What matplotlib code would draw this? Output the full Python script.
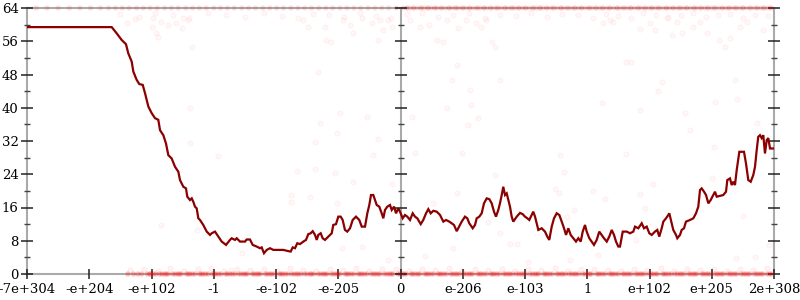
import matplotlib
matplotlib.use("Agg")
import matplotlib.pyplot as plt

# ---------------- data ----------------
tick_labels = ["-7e+304", "-e+204", "-e+102", "-1", "-e-102", "-e-205", "0",
               "e-206", "e-103", "1", "e+102", "e+205", "2e+308"]
y_major = [0, 8, 16, 24, 32, 40, 48, 56, 64]
y_minor = [4, 12, 20, 28, 36, 44, 52, 60]

# average error line (x in tick-index units, y in bits)
line_x = [0.0, 1.361, 1.441, 1.521, 1.590, 1.627, 1.682, 1.708, 1.762, 1.804, 1.859, 1.896, 1.949,
          2.003, 2.056, 2.109, 2.137, 2.190, 2.233, 2.270, 2.324, 2.378, 2.431, 2.458, 2.511,
          2.554, 2.575, 2.618, 2.646, 2.671, 2.699, 2.726, 2.752, 2.779, 2.832, 2.887, 2.940,
          2.967, 3.020, 3.073, 3.128, 3.197, 3.261, 3.288, 3.341, 3.369, 3.422, 3.502, 3.529,
          3.582, 3.626, 3.690, 3.743, 3.770, 3.807, 3.851, 3.904, 3.957, 4.037, 4.117, 4.198,
          4.236, 4.268, 4.305, 4.342, 4.386, 4.439, 4.482, 4.519, 4.557, 4.590, 4.627, 4.654,
          4.680, 4.718, 4.750, 4.787, 4.840, 4.895, 4.920, 4.964, 5.001, 5.039, 5.071, 5.108,
          5.145, 5.189, 5.232, 5.285, 5.338, 5.377, 5.430, 5.467, 5.499, 5.526, 5.563, 5.590,
          5.618, 5.659, 5.698, 5.724, 5.751, 5.788, 5.831, 5.859, 5.896, 5.928, 5.965, 5.992,
          6.035, 6.072, 6.109, 6.153, 6.196, 6.233, 6.270, 6.325, 6.366, 6.410, 6.447, 6.485,
          6.527, 6.582, 6.635, 6.688, 6.731, 6.784, 6.823, 6.859, 6.903, 6.945, 6.983, 7.036,
          7.073, 7.105, 7.160, 7.197, 7.224, 7.266, 7.304, 7.341, 7.385, 7.427, 7.465, 7.502,
          7.534, 7.571, 7.598, 7.626, 7.651, 7.679, 7.706, 7.732, 7.759, 7.786, 7.812, 7.867,
          7.920, 7.963, 8.000, 8.037, 8.069, 8.108, 8.133, 8.161, 8.188, 8.214, 8.268, 8.321,
          8.358, 8.390, 8.429, 8.466, 8.509, 8.551, 8.590, 8.627, 8.659, 8.696, 8.734, 8.776,
          8.819, 8.856, 8.895, 8.927, 8.964, 8.991, 9.033, 9.071, 9.108, 9.152, 9.193, 9.232,
          9.269, 9.313, 9.354, 9.393, 9.430, 9.462, 9.499, 9.526, 9.570, 9.634, 9.687, 9.740,
          9.767, 9.820, 9.875, 9.912, 9.955, 9.997, 10.035, 10.088, 10.125, 10.157, 10.196,
          10.222, 10.265, 10.302, 10.318, 10.357, 10.382, 10.426, 10.447, 10.490, 10.517,
          10.554, 10.586, 10.651, 10.704, 10.747, 10.784, 10.811, 10.838, 10.876, 10.908,
          10.945, 10.983, 11.025, 11.052, 11.080, 11.133, 11.185, 11.229, 11.250, 11.293,
          11.320, 11.346, 11.373, 11.401, 11.443, 11.481, 11.518, 11.550, 11.587, 11.626,
          11.667, 11.695, 11.722, 11.747, 11.775, 11.802, 11.828, 11.855, 11.883, 11.908,
          11.936, 12.0]
line_y = [59.4, 59.4, 57.9, 56.3, 55.3, 53.1, 51.1, 48.7, 46.7, 45.7, 45.5, 43.5, 40.3,
          38.7, 37.5, 37.1, 34.6, 33.4, 31.4, 28.6, 27.8, 25.8, 24.6, 22.6, 21.0,
          20.6, 18.6, 17.8, 18.2, 17.4, 16.2, 15.8, 13.4, 13.0, 11.8, 10.2, 9.4,
          9.8, 10.2, 9.0, 7.8, 7.0, 8.2, 8.6, 8.2, 8.6, 7.8, 7.8, 8.3,
          8.3, 7.0, 6.6, 6.2, 6.4, 5.0, 5.8, 6.2, 5.8, 5.8, 5.8, 5.5,
          5.4, 6.4, 6.2, 7.4, 7.2, 7.8, 8.2, 9.6, 9.8, 10.3, 9.4, 8.2,
          9.4, 9.8, 8.6, 8.2, 9.0, 9.8, 11.8, 12.0, 13.8, 13.8, 13.0, 10.6,
          10.2, 11.0, 13.0, 13.8, 13.0, 11.4, 11.4, 14.6, 16.6, 19.0, 19.0, 17.8,
          16.6, 16.2, 14.6, 13.4, 15.4, 16.2, 16.6, 15.4, 16.2, 14.6, 15.8, 15.0,
          13.4, 14.2, 13.8, 13.0, 14.6, 13.8, 13.4, 12.0, 13.0, 14.6, 15.6, 14.6,
          15.2, 15.0, 14.2, 12.6, 13.0, 12.6, 12.2, 11.8, 10.3, 11.5, 12.6, 13.8,
          13.4, 12.2, 11.0, 11.8, 13.4, 13.8, 14.6, 17.0, 18.2, 18.0, 17.0, 15.0,
          13.8, 15.4, 17.0, 19.0, 21.0, 19.0, 19.4, 17.8, 16.2, 13.8, 12.6, 13.8,
          14.7, 14.4, 13.8, 13.4, 13.0, 14.2, 15.0, 13.8, 12.2, 10.6, 11.0, 10.2,
          9.0, 8.2, 11.4, 13.4, 14.6, 14.2, 12.6, 11.0, 9.4, 11.0, 9.4, 8.6,
          7.8, 8.6, 7.8, 10.2, 11.8, 10.2, 8.6, 7.8, 7.0, 8.2, 10.2, 9.4,
          8.6, 7.8, 9.0, 10.6, 9.4, 7.8, 6.6, 6.6, 10.2, 10.2, 9.8, 10.2,
          11.4, 11.0, 12.2, 11.0, 11.4, 9.8, 9.4, 10.2, 10.6, 9.0, 11.0,
          12.6, 13.4, 14.2, 14.6, 12.2, 10.6, 9.4, 8.6, 9.4, 10.6,
          11.0, 12.6, 13.0, 13.4, 14.6, 16.2, 20.2, 20.6, 19.8, 19.0,
          17.0, 17.8, 19.0, 19.8, 18.6, 18.8, 19.0, 19.8, 22.6, 23.0,
          21.4, 22.2, 21.4, 25.0, 29.4, 29.4, 29.4, 26.6, 22.6, 22.2,
          23.8, 25.8, 29.8, 33.0, 33.4, 32.7, 33.4, 29.0, 32.2, 32.7,
          30.2, 30.2]

# individual sample errors: dense rows at 0 bits and 64 bits
zero_x = [1.62, 1.71, 1.78, 1.84, 1.93, 1.99, 2.07, 2.13, 2.21, 2.27, 2.34, 2.42, 2.48, 2.56,
          2.62, 2.7, 2.77, 2.83, 2.91, 2.98, 3.04, 3.12, 3.19, 3.26, 3.34, 3.4, 3.48, 3.54,
          3.62, 3.69, 3.75, 3.83, 3.9, 3.97, 4.05, 4.11, 4.19, 4.25, 4.33, 4.4, 4.46, 4.55,
          4.61, 4.68, 4.76, 4.82, 4.89, 4.97, 5.03, 5.11, 5.17, 5.25, 5.32, 5.38, 5.46, 5.53,
          5.6, 5.67, 5.74, 5.82, 5.88, 5.96, 6.03, 6.09, 6.17, 6.24, 6.31, 6.39, 6.45, 6.53,
          6.6, 6.66, 6.74, 6.81, 6.88, 6.95, 7.02, 7.1, 7.16, 7.24, 7.3, 7.38, 7.45, 7.51,
          7.59, 7.66, 7.73, 7.8, 7.86, 7.94, 8.01, 8.08, 8.16, 8.22, 8.3, 8.36, 8.44, 8.51,
          8.58, 8.65, 8.71, 8.79, 8.86, 8.93, 9.01, 9.07, 9.15, 9.21, 9.29, 9.36, 9.42, 9.5,
          9.57, 9.64, 9.71, 9.78, 9.85, 9.92, 9.99, 10.06, 10.13, 10.21, 10.27, 10.35, 10.41,
          10.49, 10.56, 10.63, 10.7, 10.76, 10.84, 10.91, 10.98, 11.05, 11.12, 11.19, 11.26,
          11.33, 11.4, 11.47, 11.54, 11.61, 11.68, 11.75, 11.82, 11.89, 11.96]
zero_x2 = [1.97, 2.03, 2.17, 2.24, 2.38, 2.45, 2.59, 2.66, 2.8, 2.87, 3.01, 3.08, 3.22, 3.3,
           3.44, 3.51, 3.65, 3.72, 3.86, 3.93, 4.08, 4.15, 4.29, 4.36, 4.5, 4.57, 4.72, 4.79,
           4.93, 5.0, 5.14, 5.21, 5.35, 5.42, 5.57, 5.64, 5.78, 5.85, 5.99, 6.06, 6.2, 6.28,
           6.42, 6.49, 6.63, 6.7, 6.84, 6.91, 7.06, 7.13, 7.27, 7.34, 7.48, 7.55, 7.69, 7.76,
           7.9, 7.97, 8.12, 8.19, 8.33, 8.4, 8.54, 8.61, 8.75, 8.82, 8.97, 9.04, 9.18, 9.25,
           9.39, 9.46, 9.6, 9.67, 9.81, 9.88, 10.03, 10.1, 10.24, 10.31, 10.45, 10.52, 10.66,
           10.73, 10.87, 10.94, 11.09, 11.16, 11.3, 11.37, 11.51, 11.58, 11.72, 11.79, 11.93]
low_x = [1.66, 1.88, 2.1, 2.3, 2.52, 2.74, 2.95, 3.16, 3.37, 3.58, 3.8, 4.01, 4.22, 4.44, 4.65,
         4.86, 5.07, 5.29, 5.5, 5.71, 5.92, 6.14, 6.35, 6.56, 6.78, 6.99, 7.2, 7.41, 7.63,
         7.84, 8.05, 8.26, 8.48, 8.69, 8.9, 9.11, 9.33, 9.54, 9.75, 9.96, 10.18, 10.39,
         10.6, 10.81, 11.03, 11.24, 11.45, 11.66, 11.88]
low_y = [0.9, 1.2, 0.7, 1.4, 0.8, 1.1, 1.5, 0.7, 1.2, 0.9, 1.3, 0.8, 1.4, 1.0, 0.7,
         1.3, 0.9, 1.5, 0.8, 1.1, 1.3, 0.7, 1.2, 1.0, 1.4, 0.8, 1.1, 0.9, 1.3,
         0.7, 1.2, 1.0, 1.4, 0.8, 1.1, 1.3, 0.9, 0.7, 1.2, 1.0, 1.4, 0.8,
         1.1, 0.9, 1.3, 0.7, 1.2, 1.0, 1.4]
top_x = [0.15, 0.32, 0.5, 0.68, 0.85, 1.02, 1.18, 1.31, 1.42, 1.53, 1.64, 1.76, 1.87, 1.98,
         2.09, 2.21, 2.32, 2.43, 2.55, 2.66, 2.77, 2.88, 3.0, 3.11, 3.22, 3.33, 3.45, 3.56,
         3.67, 3.79, 3.9, 4.01, 4.12, 4.24, 4.35, 4.46, 4.57, 4.69, 4.8, 4.91, 5.03, 5.14,
         5.25, 5.36, 5.48, 5.59, 5.7, 5.81, 5.93, 6.04, 6.15, 6.27, 6.38, 6.49, 6.6, 6.72,
         6.83, 6.94, 7.05, 7.17, 7.28, 7.39, 7.51, 7.62, 7.73, 7.84, 7.96, 8.07, 8.18, 8.29,
         8.41, 8.52, 8.63, 8.75, 8.86, 8.97, 9.08, 9.2, 9.31, 9.42, 9.53, 9.65, 9.76, 9.87,
         9.99, 10.1, 10.21, 10.32, 10.44, 10.55, 10.66, 10.77, 10.89, 11.0, 11.11, 11.23,
         11.34, 11.45, 11.56, 11.68, 11.79, 11.9]
top_x2 = [6.1, 6.21, 6.33, 6.44, 6.55, 6.66, 6.78, 6.89, 7.0, 7.11, 7.23, 7.34, 7.45, 7.56,
          7.68, 7.79, 7.9, 8.01, 8.13, 8.24, 8.35, 8.46, 8.58, 8.69, 8.8, 8.91, 9.03, 9.14,
          9.25, 9.36, 9.48, 9.59, 9.7, 9.82, 9.93, 10.04, 10.15, 10.27, 10.38, 10.49, 10.6,
          10.72, 10.83, 10.94, 11.05, 11.17, 11.28, 11.39, 11.5, 11.62, 11.73, 11.84, 11.95]
high_x = [1.5, 1.8, 2.05, 2.35, 2.6, 2.9, 3.2, 3.5, 3.8, 4.1, 4.35, 4.6, 4.85, 5.1, 5.35,
          5.6, 5.85, 6.1, 6.35, 6.6, 6.85, 7.1, 7.35, 7.6, 7.85, 8.1, 8.35, 8.6, 8.85,
          9.1, 9.3, 9.5, 9.7, 9.9, 10.1, 10.3, 10.5, 10.7, 10.9, 11.1, 11.3, 11.5, 11.7, 11.9]
high_y = [62.5, 61.8, 62.9, 62.2, 61.6, 62.7, 62.4, 61.9, 62.8, 62.1, 61.7, 62.6, 62.3,
          61.8, 62.9, 62.0, 61.6, 62.5, 62.8, 61.9, 62.3, 62.7, 61.7, 62.4, 62.0, 62.8,
          61.8, 62.5, 62.2, 61.7, 62.6, 62.0, 61.6, 62.9, 62.3, 61.8, 62.4, 62.7, 61.9,
          62.2, 62.6, 61.7, 62.4, 62.0]
pts_x = [1.60, 1.73, 2.03, 2.08, 2.11, 2.16, 2.27, 2.40, 2.49, 2.51, 2.59, 2.65, 2.62, 2.62,
         1.71, 2.00, 4.44, 4.52, 4.68, 4.79, 4.81, 4.88, 5.08, 5.19, 5.24, 5.38, 5.46, 5.54,
         5.64, 5.67, 5.72, 5.80, 5.86, 5.64, 5.03, 4.98, 4.63, 4.71, 6.18, 6.15, 6.31, 6.45,
         6.58, 6.69, 6.74, 6.82, 6.90, 6.93, 7.06, 7.12, 7.14, 7.22, 7.30, 7.38, 7.47, 7.52,
         6.74, 7.09, 7.25, 7.60, 9.26, 9.37, 9.42, 9.63, 9.71, 9.85, 10.01, 10.09, 10.20,
         10.14, 10.28, 10.36, 10.44, 10.52, 10.57, 10.65, 10.70, 10.81, 10.92, 11.05, 11.03,
         11.11, 11.21, 11.29, 11.37, 11.40, 11.45, 11.56, 11.72, 11.83, 9.23, 9.85, 3.07,
         4.33, 4.63, 4.95, 5.56, 5.23, 5.86, 4.24, 4.24, 4.55, 4.98, 5.06, 5.38, 5.80, 3.45,
         3.27, 6.23, 6.98, 7.52, 8.62, 8.56, 6.53, 6.90, 7.41, 7.60, 6.85, 6.39, 7.76, 7.87,
         8.05, 8.72, 8.48, 8.54, 8.78, 9.10, 9.18, 8.68, 9.63, 10.06, 9.84, 9.93, 9.79,
         11.00, 11.51, 11.92, 11.39, 11.69, 9.29, 2.16, 2.73]
pts_y = [60.5, 61.3, 61.5, 57.9, 57.1, 60.7, 59.9, 60.3, 59.1, 61.5, 61.0, 54.7, 39.9, 31.4,
         47.9, 59.5, 61.1, 59.5, 48.7, 59.5, 56.3, 55.9, 61.1, 59.9, 57.9, 61.5, 37.8, 60.3,
         56.3, 61.1, 58.7, 61.1, 59.5, 32.4, 38.7, 33.9, 31.8, 36.3, 37.8, 61.1, 59.5, 59.9,
         56.3, 55.9, 61.1, 46.7, 50.3, 59.1, 61.1, 44.3, 40.7, 60.3, 59.5, 61.1, 55.9, 54.7,
         39.9, 35.9, 37.5, 46.7, 60.3, 61.1, 60.7, 50.9, 50.9, 58.9, 60.3, 58.7, 46.3,
         44.1, 61.5, 57.5, 60.7, 57.9, 38.7, 34.6, 59.5, 60.7, 57.9, 41.5, 30.6,
         56.3, 54.7, 56.7, 46.7, 42.0, 59.5, 60.7, 36.4, 58.7, 41.1, 39.5, 28.4,
         24.9, 25.2, 24.4, 28.6, 22.2, 21.6, 17.4, 19.0, 18.6, 17.0, 6.2, 6.6, 3.4, 5.1,
         1.0, 29.2, 29.2, 23.8, 24.6, 28.6, 17.2, 19.6, 12.6, 9.8, 6.2, 4.3, 7.2, 7.2,
         3.0, 3.4, 20.4, 19.4, 15.4, 20.0, 4.6, 13.8, 28.9, 21.7, 19.2, 16.0, 8.3,
         23.0, 14.0, 7.0, 3.8, 4.2, 18.0, 11.8, 10.6]

# ---------------- drawing ----------------
fig = plt.figure(figsize=(8, 3), dpi=100)
ax = fig.add_axes([27 / 800, 26 / 300, 747 / 800, 266 / 300])
ax.set_xlim(0, len(tick_labels) - 1)
ax.set_ylim(0, 64)

face = (1, 0, 0, 0.03)
edge = (1, 0, 0, 0.05)
kw = dict(marker="o", s=14, linewidths=0.6, clip_on=False, zorder=2)
ax.scatter(pts_x, pts_y, facecolors=face, edgecolors=edge, **kw)
ax.scatter(high_x, high_y, facecolors=face, edgecolors=edge, **kw)
ax.scatter(low_x, low_y, facecolors=(1, 0, 0, 0.05), edgecolors=(1, 0, 0, 0.06), **kw)
ax.scatter(top_x, [64] * len(top_x), facecolors=(1, 0, 0, 0.12), edgecolors="none", **kw)
ax.scatter(top_x2, [64] * len(top_x2), facecolors=(1, 0, 0, 0.22), edgecolors="none", **kw)
ax.scatter(zero_x, [0] * len(zero_x), facecolors=(1, 0, 0, 0.25), edgecolors="none", **kw)
ax.scatter(zero_x2, [0] * len(zero_x2), facecolors=(1, 0, 0, 0.25), edgecolors="none", **kw)

ax.plot(line_x, line_y, color="#8b0000", lw=1.6, zorder=4, solid_joinstyle="miter")

axis_gray = "#aaaaaa"
for side in ["left", "right", "top", "bottom"]:
    ax.spines[side].set_color(axis_gray)
    ax.spines[side].set_linewidth(1.5)
    ax.spines[side].set_zorder(1)
ax.axvline(6, color=axis_gray, lw=1.5, zorder=1)

ax.set_xticks(range(len(tick_labels)))
ax.set_xticklabels(tick_labels)
ax.set_yticks(y_major)
ax.set_yticks(y_minor, minor=True)
ax.tick_params(axis="both", which="major", direction="inout", length=8, width=1.1,
               color="#222222", labelsize=9.5, pad=2)
ax.tick_params(axis="y", which="minor", direction="inout", length=4.5, width=1.0,
               color="#444444")
ax.tick_params(axis="y", which="both", right=True)
ax.tick_params(axis="x", which="major", length=7, pad=3)
for lab in ax.get_xticklabels() + ax.get_yticklabels():
    lab.set_family("DejaVu Serif")

# tick marks on the central (zero) axis
ax.plot([6] * len(y_major), y_major, ls="none", marker="_", ms=8, mew=1.1,
        color="#222222", zorder=5, clip_on=False)
ax.plot([6] * len(y_minor), y_minor, ls="none", marker="_", ms=4.5, mew=1.0,
        color="#444444", zorder=5)

fig.savefig("out.png", dpi=100)
